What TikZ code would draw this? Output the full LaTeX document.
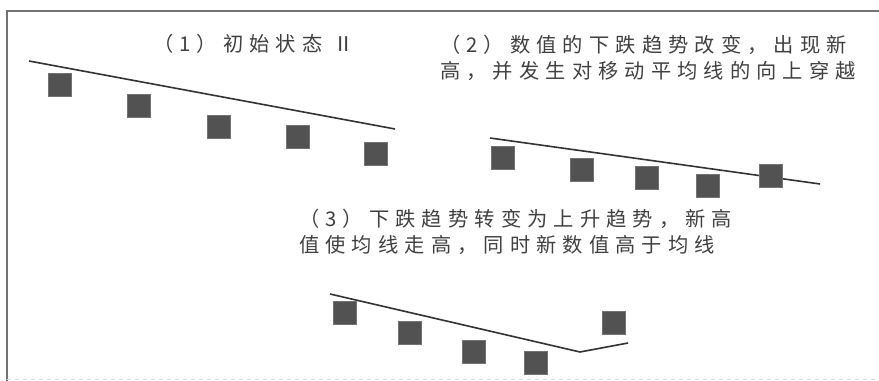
\documentclass[tikz,border=0pt]{standalone}
\usepackage{fontspec}
\newfontfamily\cjk[LetterSpace=30]{Noto Sans CJK SC}
\usetikzlibrary{positioning}

\begin{document}
\begin{tikzpicture}[x=0.75pt,y=-0.75pt]
			\tikzstyle{datum}=[rectangle,fill=black!68,draw=black!55,minimum size=17pt,inner sep=0pt]
			\tikzstyle{trend}=[draw=black!80,line width=1.2pt]
			\tikzstyle{caption}=[anchor=west,align=left,inner sep=0pt,text=black!75,font=\cjk\fontsize{15.2pt}{20pt}\selectfont]
			\useasboundingbox (0,0) rectangle (879,381);
			
			% frame
			\draw[black!55,line width=1pt] (7,381) -- (7,11) -- (879,11);
			\draw[black!15,dashed,line width=0.6pt] (7,379) -- (879,379);
			
			% (1)
			\node[caption] (cap1) at (153,44) {（1）初始状态 Ⅱ};
			\coordinate (m1s) at (29,61);
			\coordinate (m1e) at (395,129);
			\draw[trend] (m1s) -- (m1e);
			\node[datum] (p11) at (60,85) {};
			\node[datum] (p12) at (139,106) {};
			\node[datum] (p13) at (219,127) {};
			\node[datum] (p14) at (298,137) {};
			\node[datum] (p15) at (376,154) {};
			
			% (2)
			\node[caption] (cap2) at (440,58) {（2）数值的下跌趋势改变，出现新\\高，并发生对移动平均线的向上穿越};
			\coordinate (m2s) at (490,138);
			\coordinate (m2e) at (820,184);
			\draw[trend] (m2s) -- (m2e);
			\node[datum] (p21) at (503,158) {};
			\node[datum] (p22) at (582,170) {};
			\node[datum] (p23) at (647,178) {};
			\node[datum] (p24) at (708,186) {};
			\node[datum] (p25) at (771,176) {};
			
			% (3)
			\node[caption] (cap3) at (299,232) {（3）下跌趋势转变为上升趋势，新高\\值使均线走高，同时新数值高于均线};
			\coordinate (m3s) at (330,294);
			\coordinate (m3k) at (580,352);
			\coordinate (m3e) at (628,343);
			\draw[trend] (m3s) -- (m3k) -- (m3e);
			\node[datum] (p31) at (345,313) {};
			\node[datum] (p32) at (410,333) {};
			\node[datum] (p33) at (474,352) {};
			\node[datum] (p34) at (536,363) {};
			\node[datum] (p35) at (614,323) {};
			
\end{tikzpicture}
\end{document}
